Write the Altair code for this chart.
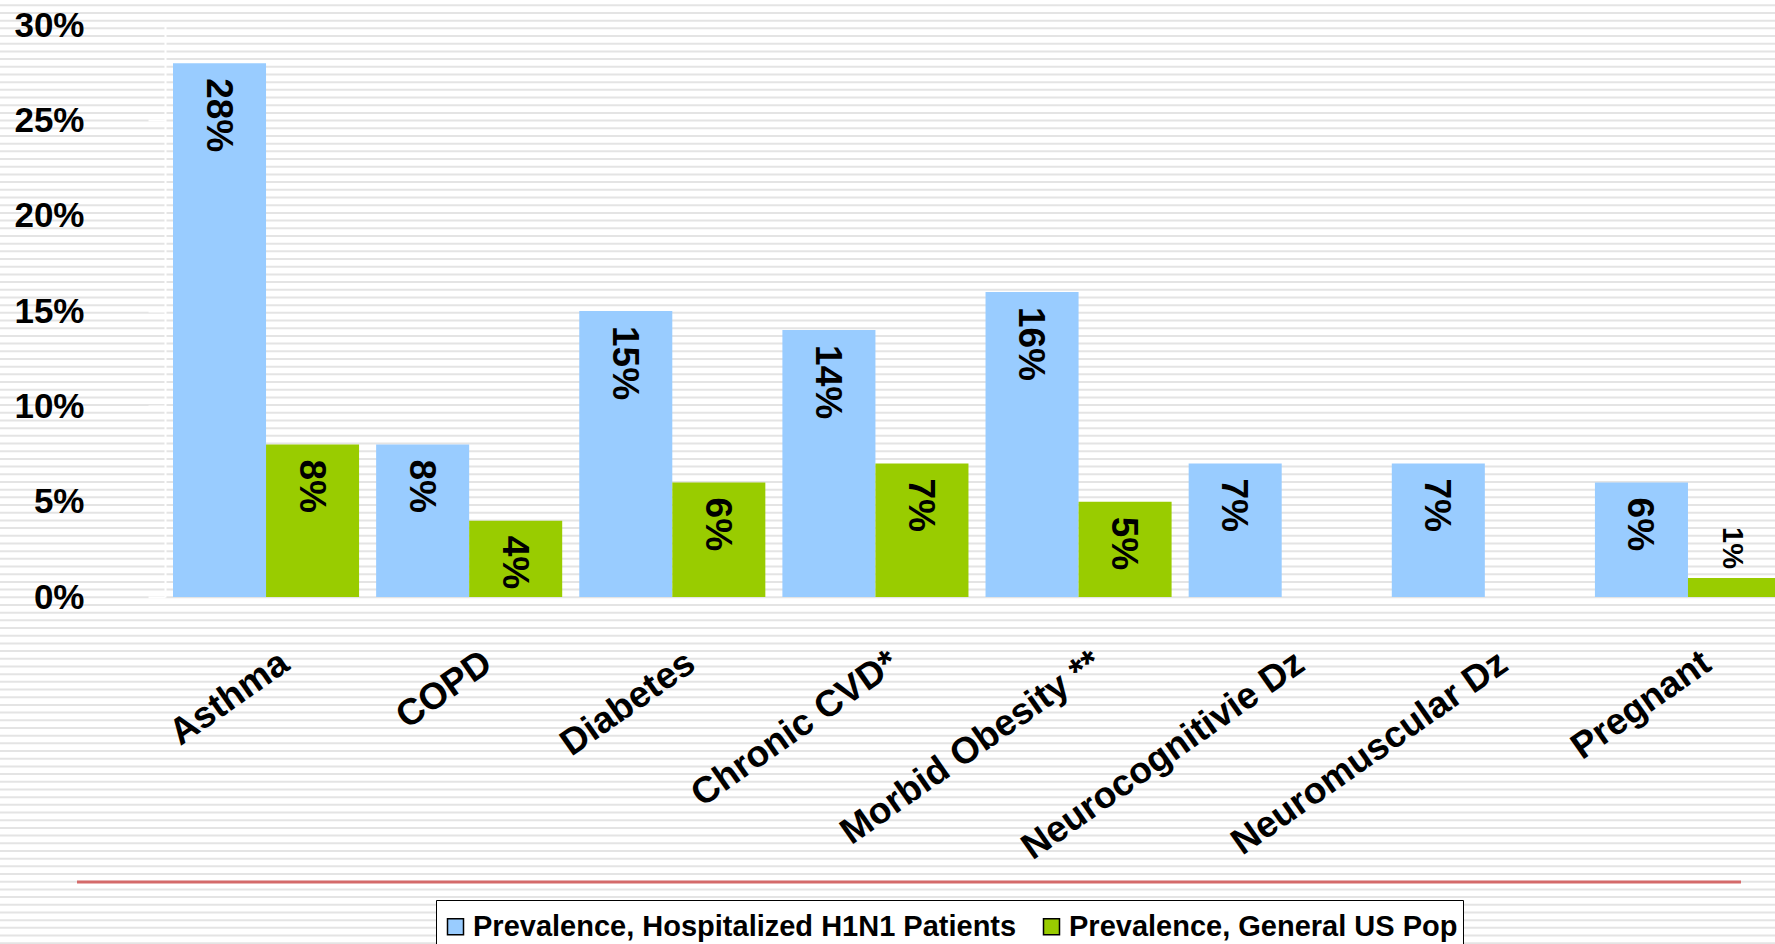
import altair as alt
import pandas as pd

# ---- data ----
categories = ["Asthma", "COPD", "Diabetes", "Chronic CVD*", "Morbid Obesity **",
              "Neurocognitivie Dz", "Neuromuscular Dz", "Pregnant"]
hospitalized = [28, 8, 15, 14, 16, 7, 7, 6]
general_pop = [8, 4, 6, 7, 5, None, None, 1]
series = ["Prevalence, Hospitalized H1N1 Patients", "Prevalence, General US Pop"]
colors = ["#99ccff", "#99cc00"]
y_ticks = [0, 5, 10, 15, 20, 25, 30]

rows = []
for c, h, g in zip(categories, hospitalized, general_pop):
    rows.append({"cat": c, "series": series[0], "value": h})
    if g is not None:
        rows.append({"cat": c, "series": series[1], "value": g})
df = pd.DataFrame(rows)

FONT = "Liberation Sans"
W, H = 1610, 572

x_enc = alt.X(
    "cat:N", sort=categories,
    scale=alt.Scale(range=[8, 1616], paddingInner=0.084, paddingOuter=0),
    axis=alt.Axis(title=None, labelAngle=-35, labelAlign="right", labelBaseline="middle",
                  labelFont=FONT, labelFontSize=37, labelFontWeight="bold", labelColor="black",
                  labelPadding=58, labelOffset=19, ticks=False, domainColor="white",
                  domainWidth=2, labelLimit=0, offset=4, zindex=1),
)
y_enc = alt.Y(
    "value:Q", scale=alt.Scale(domain=[0, 30], nice=False),
    axis=alt.Axis(title=None, values=y_ticks, labelExpr="datum.value + '%'",
                  labelFont=FONT, labelFontSize=35, labelFontWeight="bold", labelColor="black",
                  labelPadding=64, tickSize=17, tickColor="white", tickWidth=2,
                  domainColor="white", domainWidth=2, grid=False, zindex=1),
)
xoff = alt.XOffset("series:N", sort=series, scale=alt.Scale(paddingInner=0, paddingOuter=0))

base = alt.Chart(df)

bars = base.mark_bar().encode(
    x=x_enc, y=y_enc, xOffset=xoff,
    color=alt.Color("series:N", sort=series,
                    scale=alt.Scale(domain=series, range=colors),
                    legend=alt.Legend(orient="none", legendX=271, legendY=875,
                                      direction="horizontal", title=" ",
                                      titleFontSize=1, titlePadding=6,
                                      labelFont=FONT, labelFontSize=29, labelFontWeight="bold",
                                      labelColor="black", symbolType="square", symbolSize=256,
                                      symbolStrokeColor="black", symbolStrokeWidth=1.5,
                                      symbolOpacity=1, strokeColor="black", fillColor="white",
                                      padding=5, columnPadding=20, labelOffset=3, labelLimit=0)),
)

labels_in = base.transform_filter("datum.value >= 2").transform_calculate(
    label="datum.value + '%'"
).mark_text(angle=90, align="left", baseline="middle", dx=15, dy=2, font=FONT,
            fontSize=37, fontWeight="bold", color="black").encode(
    x=x_enc, y=y_enc, xOffset=xoff, text="label:N")

labels_out = base.transform_filter("datum.value < 2").transform_calculate(
    label="datum.value + '%'"
).mark_text(angle=90, align="right", baseline="middle", dx=-9, dy=2, font=FONT,
            fontSize=29, fontWeight="bold", color="black").encode(
    x=x_enc, y=y_enc, xOffset=xoff, text="label:N")

main = alt.layer(bars, labels_in, labels_out)

# decorative slide background stripes
stripes = alt.Chart(alt.sequence(0, 123, as_="k")).transform_calculate(
    yp="-19.7 + 7.688 * datum.k"
).mark_rule(color="#e4e4e4", strokeWidth=2).encode(
    x=alt.value(-165), x2=alt.value(W), y=alt.Y("yp:Q", scale=None, axis=None))

# decorative red slide rule
red = alt.Chart(alt.Data(values=[{}])).mark_rule(color="#d46a6a", strokeWidth=3).encode(
    x=alt.value(-88), x2=alt.value(1576), y=alt.value(857))

chart = alt.layer(stripes, red, main).resolve_scale(
    y="independent"
).properties(
    width=W, height=H,
    autosize=alt.AutoSizeParams(type="none"),
    padding={"left": 165, "top": 25, "right": 0, "bottom": 347},
    background="white",
).configure_view(stroke=None)

chart.save("out.html", embed_options={"renderer": "svg", "actions": False})
